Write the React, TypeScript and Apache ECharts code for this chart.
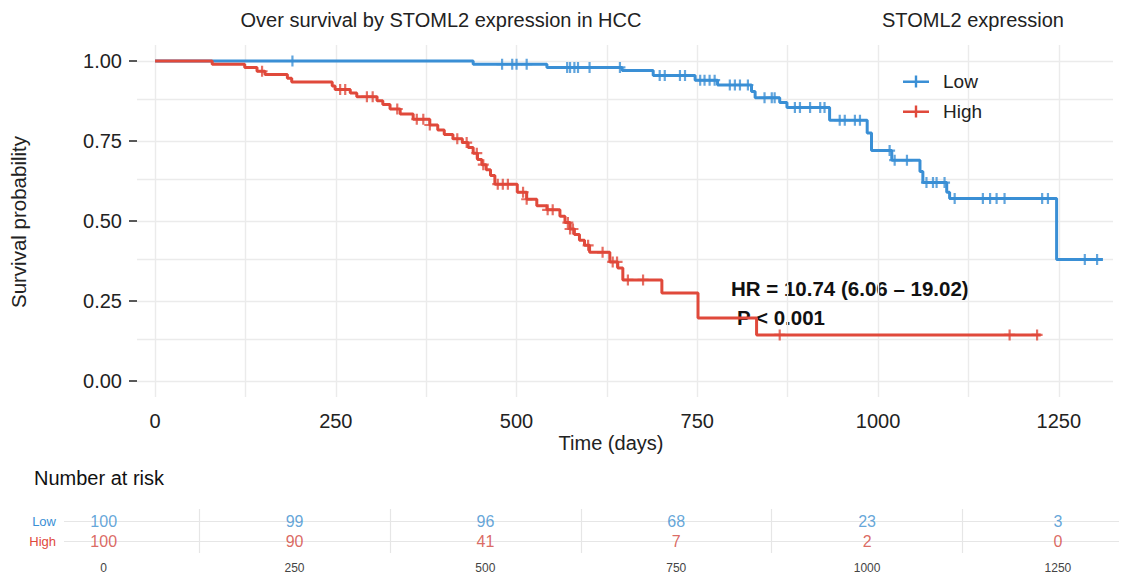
import React, { useEffect, useRef } from "react";
import * as echarts from "echarts";

// ---------- data ----------
const lowTimes = [0, 440, 542, 646, 689, 747, 778, 825, 830, 864, 874, 933, 985, 991, 1019, 1058, 1062, 1095, 1099, 1247];
const lowSurv = [1, 0.99, 0.98, 0.97, 0.955, 0.94, 0.925, 0.905, 0.885, 0.87, 0.855, 0.815, 0.775, 0.72, 0.69, 0.655, 0.62, 0.59, 0.57, 0.38];
const lowEnd = 1311;
const lowCensor = [190, 480, 494, 500, 514, 570, 574, 580, 585, 601, 643, 698, 705, 726, 733, 754, 760, 767, 774, 795, 802, 809, 820, 843, 853, 857, 885, 892, 906, 920, 926, 947, 954, 968, 975, 1016, 1023, 1040, 1067, 1076, 1081, 1092, 1106, 1145, 1155, 1164, 1175, 1227, 1235, 1286, 1303];

const highTimes = [0, 79, 124, 141, 152, 183, 189, 245, 249, 270, 279, 307, 315, 325, 339, 357, 380, 391, 400, 412, 425, 433, 440, 446, 452, 458, 464, 470, 501, 514, 528, 542, 560, 567, 574, 580, 587, 594, 601, 629, 640, 647, 701, 751, 832];
const highSurv = [1, 0.99, 0.98, 0.968, 0.958, 0.946, 0.934, 0.922, 0.911, 0.9, 0.888, 0.876, 0.864, 0.85, 0.834, 0.818, 0.8, 0.784, 0.77, 0.757, 0.745, 0.73, 0.712, 0.692, 0.676, 0.66, 0.642, 0.615, 0.59, 0.568, 0.548, 0.535, 0.515, 0.495, 0.475, 0.458, 0.44, 0.424, 0.402, 0.372, 0.353, 0.316, 0.275, 0.197, 0.144];
const highEnd = 1225;
const highCensor = [148, 256, 263, 293, 301, 335, 362, 371, 380, 418, 431, 445, 454, 474, 481, 488, 509, 514, 543, 550, 571, 574, 578, 599, 619, 633, 639, 654, 675, 864, 1182, 1220];

const riskTimes = [0, 250, 500, 750, 1000, 1250];
const lowRisk = [100, 99, 96, 68, 23, 3];
const highRisk = [100, 90, 41, 7, 2, 0];

const xTicks = [0, 250, 500, 750, 1000, 1250];
const yTicks = [0, 0.25, 0.5, 0.75, 1];
const xGrid = [0, 125, 250, 375, 500, 625, 750, 875, 1000, 1125, 1250];
const yGrid = [0, 0.125, 0.25, 0.375, 0.5, 0.625, 0.75, 0.875, 1];
const tableSeps = [125, 375, 625, 875, 1125];
const tableRows = [1, 2];

// ---------- helpers ----------
const FONT = "'Liberation Sans', Arial, Helvetica, sans-serif";
const BLUE = "#3a8fd5";
const RED = "#e0493b";
const PLUS = "path://M4,0h2v4h4v2h-4v4h-2v-4h-4v-2h4z";
const LEGEND_ICON = "path://M0,9h26v2.4h-26z M11.8,4h2.4v12h-2.4z";

function stepData(times: number[], surv: number[], end: number) {
  const d = times.map((t, i) => [t, surv[i]]);
  d.push([end, surv[surv.length - 1]]);
  return d;
}
function survAt(times: number[], surv: number[], t: number) {
  let v = surv[0];
  for (let i = 0; i < times.length; i++) if (times[i] <= t) v = surv[i];
  return v;
}

export default function App() {
  const ref = useRef<HTMLDivElement>(null);
  useEffect(() => {
    if (!ref.current) return;
    const chart = echarts.init(ref.current, undefined, { renderer: "svg" });
    const gridLine = { color: "#ebebeb", width: 1.4, type: "solid" as const };
    const option: any = {
      animation: false,
      textStyle: { fontFamily: FONT },
      grid: [
        { left: 137, width: 976, top: 45, height: 352 },
        { left: 64, width: 1055, top: 509, height: 44 },
      ],
      xAxis: [
        {
          type: "value", gridIndex: 0, min: -25, max: 1325,
          axisLine: { show: false, onZero: false }, axisTick: { show: false }, splitLine: { show: false },
          axisLabel: { customValues: xTicks, formatter: (v: number) => String(v), fontSize: 20, color: "#222", margin: 14, fontFamily: FONT },
        },
        {
          type: "value", gridIndex: 1, min: -52, max: 1330,
          axisLine: { show: false, onZero: false }, axisTick: { show: false }, splitLine: { show: false },
          axisLabel: { customValues: riskTimes, formatter: (v: number) => String(v), fontSize: 12, color: "#444", margin: 9, fontFamily: FONT },
        },
      ],
      yAxis: [
        {
          type: "value", gridIndex: 0, min: -0.05, max: 1.05,
          axisLine: { show: true, onZero: false, lineStyle: { color: "rgba(0,0,0,0)" } }, splitLine: { show: false },
          axisTick: { show: true, inside: false, customValues: yTicks, length: 8, lineStyle: { color: "#222", width: 1.5 } },
          axisLabel: { customValues: yTicks, formatter: (v: number) => v.toFixed(2), fontSize: 20, color: "#222", margin: 15, fontFamily: FONT },
        },
        {
          type: "value", gridIndex: 1, min: 0.4, max: 2.6,
          axisLine: { show: false, onZero: false }, splitLine: { show: false }, axisTick: { show: false },
          axisLabel: {
            customValues: tableRows,
            formatter: (v: number) => (v === 2 ? "{l|Low}" : "{h|High}"),
            margin: 8,
            rich: {
              l: { color: BLUE, fontSize: 13, fontFamily: FONT },
              h: { color: RED, fontSize: 13, fontFamily: FONT },
            },
          },
        },
      ],
      legend: {
        orient: "vertical", left: 898, top: 67, itemGap: 11,
        itemWidth: 26, itemHeight: 12,
        formatter: (name: string) => `{n|${name}}`,
        textStyle: { rich: { n: { fontSize: 19, color: "#222", padding: [0, 0, 0, 9], fontFamily: FONT } } },
        data: [
          { name: "Low", icon: LEGEND_ICON, itemStyle: { color: BLUE } },
          { name: "High", icon: LEGEND_ICON, itemStyle: { color: RED } },
        ],
      },
      series: [
        {
          type: "line", name: "grid", xAxisIndex: 0, yAxisIndex: 0, data: [], z: 1, silent: true,
          markLine: {
            z: 1, silent: true, symbol: ["none", "none"], label: { show: false }, lineStyle: gridLine, animation: false,
            data: [...xGrid.map((v) => ({ xAxis: v })), ...yGrid.map((v) => ({ yAxis: v }))],
          },
        },
        {
          type: "line", name: "tablegrid", xAxisIndex: 1, yAxisIndex: 1, data: [], z: 1, silent: true,
          markLine: {
            z: 1, silent: true, symbol: ["none", "none"], label: { show: false }, lineStyle: { color: "#e6e6e6", width: 1.2, type: "solid" }, animation: false,
            data: [...tableSeps.map((v) => ({ xAxis: v })), ...tableRows.map((v) => ({ yAxis: v }))],
          },
        },
        {
          type: "line", name: "Low", step: "end", data: stepData(lowTimes, lowSurv, lowEnd),
          showSymbol: false, symbol: "none", lineStyle: { color: BLUE, width: 3 }, itemStyle: { color: BLUE }, z: 10,
        },
        {
          type: "line", name: "High", step: "end", data: stepData(highTimes, highSurv, highEnd),
          showSymbol: false, symbol: "none", lineStyle: { color: RED, width: 3 }, itemStyle: { color: RED }, z: 11,
        },
        {
          type: "scatter", name: "Low", symbol: PLUS, symbolSize: 11, itemStyle: { color: BLUE }, z: 12,
          data: lowCensor.map((t) => [t, survAt(lowTimes, lowSurv, t)]),
        },
        {
          type: "scatter", name: "High", symbol: PLUS, symbolSize: 11, itemStyle: { color: RED }, z: 13,
          data: highCensor.map((t) => [t, survAt(highTimes, highSurv, t)]),
        },
        {
          type: "scatter", name: "riskLow", xAxisIndex: 1, yAxisIndex: 1, symbolSize: 1, itemStyle: { color: "rgba(0,0,0,0)" }, z: 12,
          data: riskTimes.map((t, i) => [t, 2, lowRisk[i]]),
          label: { show: true, position: "inside", formatter: (p: any) => String(p.value[2]), fontSize: 16, color: "#3d8fcf", fontFamily: FONT },
        },
        {
          type: "scatter", name: "riskHigh", xAxisIndex: 1, yAxisIndex: 1, symbolSize: 1, itemStyle: { color: "rgba(0,0,0,0)" }, z: 12,
          data: riskTimes.map((t, i) => [t, 1, highRisk[i]]),
          label: { show: true, position: "inside", formatter: (p: any) => String(p.value[2]), fontSize: 16, color: "#d2443a", fontFamily: FONT },
        },
      ],
      graphic: [
        { type: "text", x: 441, y: 20, style: { text: "Over survival by STOML2 expression in HCC", fontSize: 20, fill: "#222", align: "center", verticalAlign: "middle", fontFamily: FONT } },
        { type: "text", x: 973, y: 20, style: { text: "STOML2 expression", fontSize: 20, fill: "#222", align: "center", verticalAlign: "middle", fontFamily: FONT } },
        { type: "text", x: 18, y: 222, rotation: Math.PI / 2, style: { text: "Survival probability", fontSize: 20.5, fill: "#222", align: "center", verticalAlign: "middle", fontFamily: FONT } },
        { type: "text", x: 611, y: 443, style: { text: "Time (days)", fontSize: 20, fill: "#222", align: "center", verticalAlign: "middle", fontFamily: FONT } },
        { type: "text", x: 731, y: 288, style: { text: "HR = 10.74 (6.06 \u2013 19.02)", fontSize: 20.5, fontWeight: "bold", fill: "#111", align: "left", verticalAlign: "middle", fontFamily: FONT } },
        { type: "text", x: 737, y: 317, style: { text: "P < 0.001", fontSize: 20.5, fontWeight: "bold", fill: "#111", align: "left", verticalAlign: "middle", fontFamily: FONT } },
        { type: "text", x: 34, y: 478, style: { text: "Number at risk", fontSize: 20, fill: "#111", align: "left", verticalAlign: "middle", fontFamily: FONT } },
      ],
    };
    chart.setOption(option);
    return () => chart.dispose();
  }, []);
  return <div ref={ref} style={{ position: "fixed", left: 0, top: 0, width: 1138, height: 580, background: "#fff" }} />;
}
